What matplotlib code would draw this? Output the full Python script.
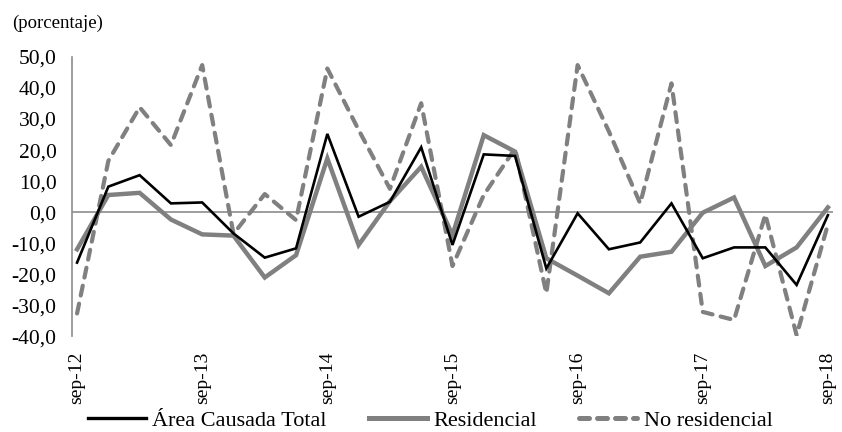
import matplotlib
matplotlib.use("Agg")
import matplotlib.pyplot as plt
from matplotlib.lines import Line2D

plt.rcParams['font.family'] = ['Liberation Serif', 'DejaVu Serif']

labels = ["sep-12", "sep-13", "sep-14", "sep-15", "sep-16", "sep-17", "sep-18"]
label_pos = [0, 4, 8, 12, 16, 20, 24]

total = [-16.3, 8.2, 11.9, 2.8, 3.1, -6.9, -14.7, -11.7, 25.2, -1.5, 3.3, 20.9,
         -10.6, 18.6, 18.1, -18.2, -0.4, -12.0, -9.8, 2.8, -14.9, -11.4, -11.4,
         -23.5, -1.0]
residencial = [-12.0, 5.5, 6.2, -2.4, -7.2, -7.6, -21.1, -13.9, 17.3, -10.6, 3.5,
               14.6, -7.4, 24.8, 19.5, -14.9, -20.5, -26.2, -14.4, -12.8, -0.2,
               4.7, -17.4, -11.4, 1.5]
no_residencial = [-32.7, 16.5, 33.8, 21.6, 47.4, -7.0, 5.8, -2.6, 46.3, 26.5, 7.5,
                  35.1, -17.4, 5.5, 20.5, -26.2, 47.4, 26.0, 2.8, 41.5, -32.2,
                  -34.8, -0.8, -39.7, -4.0]

x = list(range(len(total)))
grey = "#808080"

fig = plt.figure(figsize=(8.42, 4.32), dpi=100)
ax = fig.add_axes([0.0852, 0.222, 0.904, 0.646])

ax.axhline(0, color="#8c8c8c", lw=1.2, zorder=1)
ax.plot(x, no_residencial, color=grey, lw=3.0, dashes=(2.4, 2.0),
        dash_capstyle='round', zorder=2)
ax.plot(x, residencial, color=grey, lw=3.2, solid_joinstyle='miter', zorder=3)
ax.plot(x, total, color="black", lw=1.9, solid_joinstyle='miter', zorder=4)

ax.set_xlim(-0.17, 24.16)
ax.set_ylim(-40, 50)
ax.set_yticks(range(-40, 51, 10))
ax.set_yticklabels([f"{v},0" for v in range(-40, 51, 10)], fontsize=15.5)
ax.set_xticks(label_pos)
ax.set_xticklabels(labels, rotation=90, fontsize=14)
ax.tick_params(axis='both', length=0)
ax.tick_params(axis='y', pad=11)
ax.tick_params(axis='x', pad=11)

for s in ["top", "right", "bottom"]:
    ax.spines[s].set_visible(False)
ax.spines["left"].set_color("#8c8c8c")
ax.spines["left"].set_linewidth(1.2)

fig.text(0.014, 0.946, "(porcentaje)", fontsize=13.5, ha="left", va="center")

handles = [
    Line2D([], [], color="black", lw=2.4),
    Line2D([], [], color=grey, lw=3.6),
    Line2D([], [], color=grey, lw=3.6, dashes=(2.0, 1.6), dash_capstyle='round'),
]
fig.legend(handles, ["Área Causada Total", "Residencial", "No residencial"],
           loc="center", bbox_to_anchor=(0.511, 0.027), ncol=3, frameon=False,
           fontsize=16, handlelength=2.6, handletextpad=0.3, columnspacing=1.9,
           borderaxespad=0, borderpad=0)

fig.savefig("out.png", dpi=100)
